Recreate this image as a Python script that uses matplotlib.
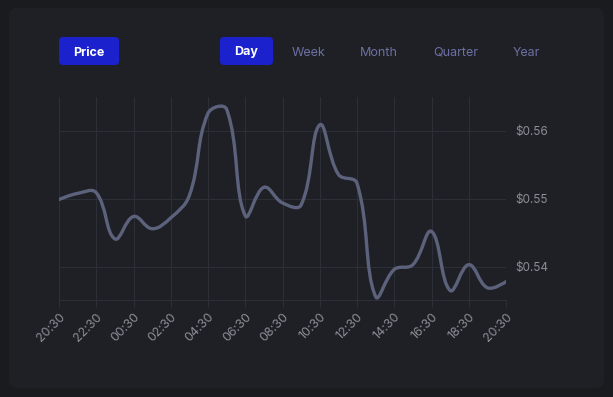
import numpy as np
import matplotlib
matplotlib.use("Agg")
import matplotlib.pyplot as plt
from matplotlib.path import Path
from matplotlib.patches import PathPatch, FancyBboxPatch

# Daten (stündliche Preise)
hours = list(range(25))
prices = [0.5499, 0.5508, 0.5509, 0.5441, 0.5474, 0.5456, 0.5472, 0.5505,
          0.5626, 0.5632, 0.5475, 0.5517, 0.5494, 0.5491, 0.5609, 0.5536,
          0.5523, 0.5356, 0.5396, 0.5403, 0.5452, 0.5365, 0.5403, 0.5369,
          0.5378]
tick_hours = list(range(0, 25, 2))
tick_labels = ["20:30", "22:30", "00:30", "02:30", "04:30", "06:30", "08:30",
               "10:30", "12:30", "14:30", "16:30", "18:30", "20:30"]
y_ticks = [0.54, 0.55, 0.56]
range_buttons = ["Day", "Week", "Month", "Quarter", "Year"]

BG = "#1a1b1f"
CARD = "#1f2025"
GRID = "#2c2e38"
LINE = "#5d627c"
BLUE = "#1b21cc"
plt.rcParams["font.family"] = ["Inter", "DejaVu Sans"]


# glatte Kurve (Spline mit Spannung 0.4) als Bezier-Pfad, Abstände in Pixeln
def spline_path(x, y, sx, sy, tension=0.4):
    P = np.column_stack([np.asarray(x, float) * sx, np.asarray(y, float) * sy])
    n = len(P)
    cp_prev = P.copy()
    cp_next = P.copy()
    for i in range(1, n - 1):
        p0, p1, p2 = P[i - 1], P[i], P[i + 1]
        d01 = np.hypot(*(p1 - p0))
        d12 = np.hypot(*(p2 - p1))
        s01 = d01 / (d01 + d12)
        s12 = d12 / (d01 + d12)
        cp_prev[i] = p1 - tension * s01 * (p2 - p0)
        cp_next[i] = p1 + tension * s12 * (p2 - p0)
    scale = np.array([sx, sy])
    verts = [P[0] / scale]
    codes = [Path.MOVETO]
    for i in range(n - 1):
        verts += [cp_next[i] / scale, cp_prev[i + 1] / scale, P[i + 1] / scale]
        codes += [Path.CURVE4] * 3
    return Path(verts, codes)


fig = plt.figure(figsize=(6.13, 3.97), dpi=100)
fig.patch.set_facecolor(BG)

# Hintergrund-Achse in Pixelkoordinaten
bg = fig.add_axes([0, 0, 1, 1], zorder=0)
bg.set_xlim(0, 613)
bg.set_ylim(397, 0)
bg.axis("off")
bg.add_patch(FancyBboxPatch((9, 8), 595, 380, boxstyle="round,pad=0,rounding_size=8",
                            fc=CARD, ec="none"))
bg.add_patch(FancyBboxPatch((59, 37), 60, 28, boxstyle="round,pad=0,rounding_size=4",
                            fc=BLUE, ec="none"))
bg.text(89, 52.5, "Price", color="white", fontsize=9, fontweight="bold", ha="center", va="center")

btn_x = [246.5, 309, 379, 455.5, 526]
bg.add_patch(FancyBboxPatch((220, 37), 53, 28, boxstyle="round,pad=0,rounding_size=4",
                            fc=BLUE, ec="none"))
for i, lab in enumerate(range_buttons):
    if i == 0:
        bg.text(btn_x[i], 52.5, lab, color="white", fontsize=9, fontweight="bold", ha="center", va="center")
    else:
        bg.text(btn_x[i], 52.5, lab, color="#6c70a3", fontsize=9, ha="center", va="center")

# Diagramm
ax = fig.add_axes([59 / 613, 1 - 300 / 397, 447 / 613, 203 / 397], zorder=1)
ax.set_facecolor("none")
ax.set_xlim(0, 24)
ax.set_ylim(0.5351, 0.5650)

ax.add_patch(PathPatch(spline_path(hours, prices, 447 / 24, 203 / (0.5650 - 0.5351)),
                       fc="none", ec=LINE, lw=2.4, capstyle="round", joinstyle="round", zorder=3))

ax.set_xticks(tick_hours)
ax.set_xticklabels(tick_labels, rotation=45, ha="right", rotation_mode="anchor")
ax.set_yticks(y_ticks)
ax.set_yticklabels(["$%.2f" % v for v in y_ticks])
ax.yaxis.tick_right()
ax.tick_params(axis="x", length=5, color=GRID, labelcolor="#8b8d97", labelsize=9, pad=3)
ax.tick_params(axis="y", length=0, labelcolor="#8b8d97", labelsize=8.5, pad=7)
ax.grid(True, color=GRID, lw=0.8)
for side in ["top", "left", "right"]:
    ax.spines[side].set_visible(False)
ax.spines["bottom"].set_color(GRID)
ax.spines["bottom"].set_linewidth(0.8)

fig.savefig("out.png", dpi=100, facecolor=BG)
